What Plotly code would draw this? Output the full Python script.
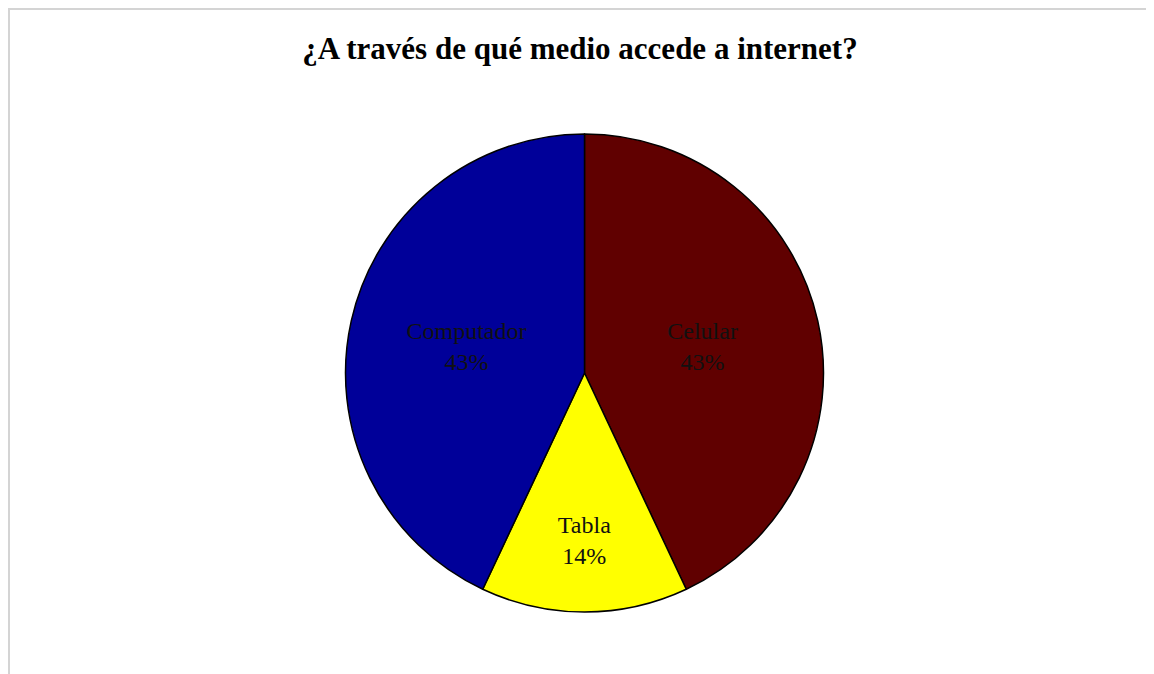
import plotly.graph_objects as go

labels = ["Celular", "Tabla", "Computador"]
values = [43, 14, 43]
colors = ["#600000", "#FFFF00", "#000099"]
title_text = "¿A través de qué medio accede a internet?"

W, H = 1154, 674
# page is offset by the 8px body margin; positions below are in figure pixels
cx, cy, r = 576.5, 365, 239

fig = go.Figure(go.Pie(
    labels=labels,
    values=values,
    sort=False,
    direction="clockwise",
    rotation=0,
    marker=dict(colors=colors, line=dict(color="#000000", width=1.5)),
    texttemplate="%{label}<br>%{percent:.0%}",
    textposition="inside",
    insidetextorientation="horizontal",
    textfont=dict(family="Liberation Serif", size=24, color="#111111"),
    showlegend=False,
    hoverinfo="label+percent",
    domain=dict(x=[(cx - r) / W, (cx + r) / W], y=[1 - (cy + r) / H, 1 - (cy - r) / H]),
))

fig.update_layout(
    width=W, height=H,
    margin=dict(l=0, r=0, t=0, b=0),
    paper_bgcolor="white",
    title=dict(text="<b>" + title_text + "</b>", x=572 / W, xanchor="center",
               y=1 - 40 / H, yanchor="middle", yref="container",
               font=dict(family="Liberation Serif", size=31, color="#000000")),
    shapes=[
        dict(type="line", xref="paper", yref="paper",
             x0=1 / W, x1=1 / W, y0=0, y1=1, line=dict(color="#d4d4d4", width=2)),
        dict(type="line", xref="paper", yref="paper",
             x0=0, x1=1, y0=1 - 1 / H, y1=1 - 1 / H, line=dict(color="#d4d4d4", width=2)),
    ],
)

fig.write_html("out.html")
